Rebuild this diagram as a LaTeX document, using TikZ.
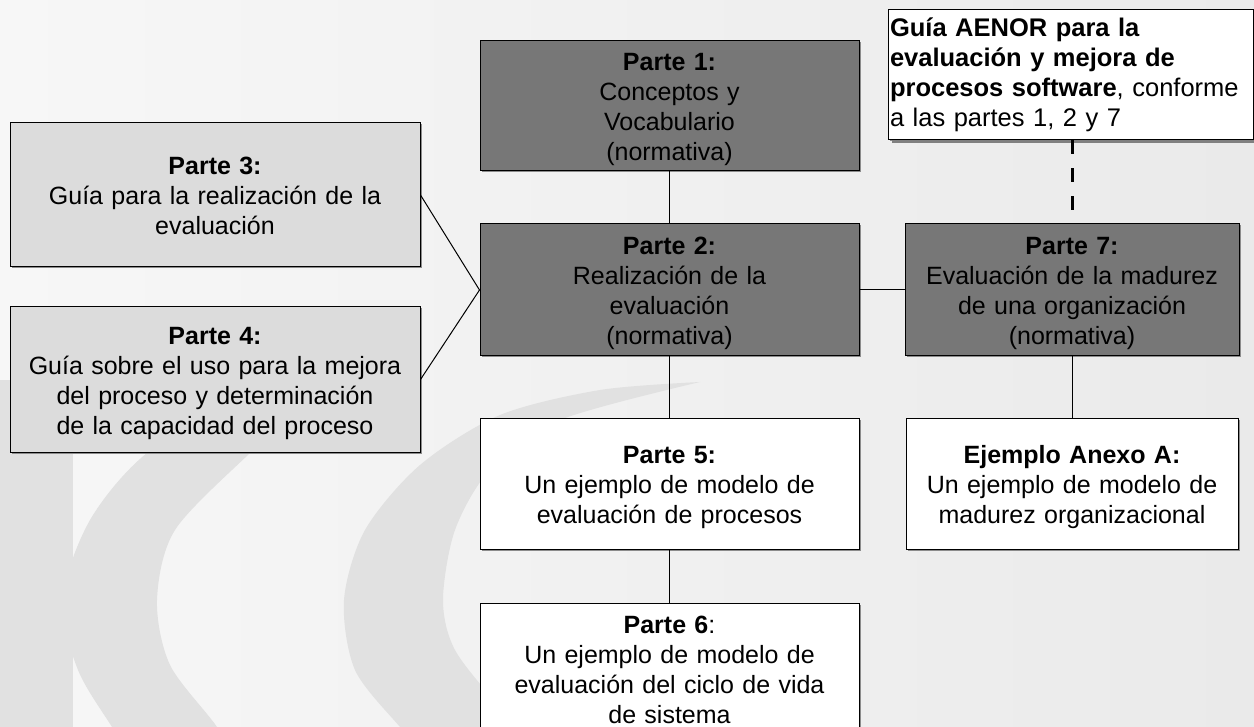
\documentclass[tikz,border=0pt]{standalone}
\usepackage{fontspec}
\setmainfont{Liberation Sans}
\usetikzlibrary{shadows,shadings}
\definecolor{boxdark}{HTML}{777777}
\definecolor{boxlight}{HTML}{DCDCDC}
\definecolor{bgL}{HTML}{F7F7F7}
\definecolor{bgR}{HTML}{EAEAEA}
\definecolor{logogray}{HTML}{E1E1E1}
\begin{document}
\begin{tikzpicture}[x=1pt,y=-1pt,
  basebox/.style={rectangle, draw=black, line width=1pt, inner sep=0pt, align=center,
    font=\fontsize{25}{30}\selectfont, text=black,
    drop shadow={shadow xshift=1.5pt, shadow yshift=-1.5pt, fill=black!45, opacity=1}},
  box/.style={basebox, text width=320pt,
    execute at begin node={\rule{0pt}{25pt}},
    execute at end node={\rule[-5pt]{0pt}{5pt}}},
  darkbox/.style={box, fill=boxdark},
  lightbox/.style={box, fill=boxlight},
  whitebox/.style={box, fill=white},
  notebox/.style={basebox, fill=white, align=left, inner sep=2pt, text width=361pt,
    font=\fontsize{25.5}{30}\selectfont,
    drop shadow={shadow xshift=3.5pt, shadow yshift=-3.5pt, fill=black!50, opacity=1}},
  link/.style={draw=black, line width=1pt},
  dashlink/.style={draw=black, line width=3pt, dash pattern=on 14pt off 14pt}]
\useasboundingbox (0,0) rectangle (1254,727);
\begin{scope}
\clip (0,0) rectangle (1254,727);
\shade[left color=bgL, right color=bgR] (0,0) rectangle (1254,727);
% logo background shapes
\fill[logogray] (0,380) rectangle (73,727);
\fill[logogray] plot[smooth] coordinates {(380,345) (250,392) (147,453) (90,520) (62,600) (78,670) (112,727) (140,770)}
  -- plot[smooth] coordinates {(240,770) (217,727) (170,665) (157,600) (175,530) (250,453) (320,390) (380,345)} -- cycle;
\fill[logogray] plot[smooth] coordinates {(700,382) (600,390) (500,415) (420,465) (365,530) (344,600) (355,670) (400,727) (430,760)}
  -- plot[smooth] coordinates {(560,770) (500,707) (455,650) (443,600) (455,530) (490,470) (560,420) (700,382)} -- cycle;
\end{scope}
% nodes
\node[darkbox, minimum width=379pt, minimum height=130pt] (p1) at (669.5,106)
  {\textbf{Parte 1:}\\Conceptos y\\Vocabulario\\(normativa)};
\node[darkbox, minimum width=379pt, minimum height=132pt] (p2) at (669.5,290)
  {\textbf{Parte 2:}\\Realización de la\\evaluación\\(normativa)};
\node[lightbox, text width=390pt, minimum width=410pt, minimum height=144pt] (p3) at (215,195)
  {\textbf{Parte 3:}\\Guía para la realización de la\\evaluación};
\node[lightbox, text width=390pt, minimum width=410pt, minimum height=145pt] (p4) at (215,379.5)
  {\textbf{Parte 4:}\\Guía sobre el uso para la mejora\\del proceso y determinación\\de la capacidad del proceso};
\node[whitebox, minimum width=379pt, minimum height=130pt] (p5) at (669.5,484)
  {\textbf{Parte 5:}\\Un ejemplo de modelo de\\evaluación de procesos};
\node[whitebox, minimum width=379pt, minimum height=130pt] (p6) at (669.5,668)
  {\textbf{Parte 6}:\\Un ejemplo de modelo de\\evaluación del ciclo de vida\\de sistema};
\node[darkbox, minimum width=334pt, minimum height=132pt] (p7) at (1072,290)
  {\textbf{Parte 7:}\\Evaluación de la madurez\\de una organización\\(normativa)};
\node[whitebox, minimum width=332pt, minimum height=130pt] (ex) at (1072,484)
  {\textbf{Ejemplo Anexo A:}\\Un ejemplo de modelo de\\madurez organizacional};
\node[notebox, minimum height=130pt] (guia) at (1070.5,75)
  {\textbf{Guía AENOR para la}\\\textbf{evaluación y mejora de}\\\textbf{procesos software}, conforme\\a las partes 1, 2 y 7};
% connectors
\draw[link] (p1.south) -- (p2.north);
\draw[link] (p3.east) -- (p2.west);
\draw[link] (p4.east) -- (p2.west);
\draw[link] (p2.east) -- (p7.west);
\draw[link] (p2.south) -- (p5.north);
\draw[link] (p5.south) -- (p6.north);
\draw[link] (p7.south) -- (ex.north);
\draw[dashlink] (p7.north |- guia.south) -- (p7.north);
\end{tikzpicture}
\end{document}
